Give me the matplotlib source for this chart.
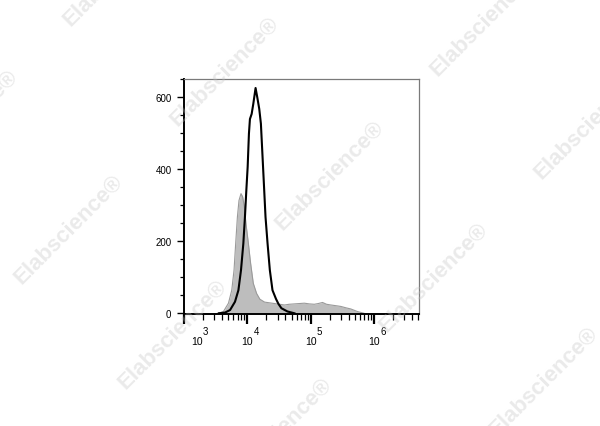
import numpy as np
import matplotlib
matplotlib.use("Agg")
import matplotlib.pyplot as plt
import matplotlib.transforms as mtransforms
from matplotlib.ticker import LogLocator, MultipleLocator, FixedLocator

plt.rcParams['font.family'] = ['Liberation Sans', 'DejaVu Sans']

# -------------------------
# data (log10 intensity, count)
# -------------------------
# isotype control (grey filled)
iso_log = [3.545, 3.623, 3.702, 3.754, 3.790, 3.816, 3.843, 3.868, 3.900, 3.926,
           3.953, 3.978, 4.016, 4.052, 4.094, 4.146, 4.198, 4.272, 4.35, 4.429,
           4.51, 4.586, 4.66, 4.743, 4.82, 4.900, 4.98, 5.057, 5.12, 5.187,
           5.25, 5.319, 5.40, 5.476, 5.56, 5.633, 5.736, 5.841]
iso_cnt = [0, 5, 28, 64, 120, 194, 267, 313, 332, 323,
           295, 249, 194, 138, 83, 55, 39, 31, 29, 27,
           25, 23, 25, 26, 27, 28, 26, 25, 27, 30,
           25, 23, 21, 19, 15, 12, 5, 0]

# stained sample (black line)
stain_log = [3.55, 3.648, 3.727, 3.805, 3.859, 3.900, 3.937, 3.962, 3.984, 4.005,
             4.025, 4.041, 4.068, 4.094, 4.130, 4.157, 4.188, 4.214, 4.235, 4.261,
             4.287, 4.319, 4.355, 4.397, 4.452, 4.491, 4.538, 4.633, 4.743]
stain_cnt = [0, 2, 9, 32, 64, 120, 194, 267, 341, 406,
             498, 539, 553, 581, 625, 599, 567, 526, 452, 360,
             267, 194, 120, 64, 40, 26, 14, 5, 0]

xticks = [1e3, 1e4, 1e5, 1e6]
xlabels = ["10", "10", "10", "10"]
xexps = ["3", "4", "5", "6"]
yticks = [0, 200, 400, 600]

# watermark centres (pixels from top-left)
wm_pos = [(118, -28), (-36, 125), (225, 72), (485, 22), (589, 125), (330, 176),
          (69, 230), (434, 278), (173, 335), (278, 433), (544, 382)]

# -------------------------
# plot
# -------------------------
fig = plt.figure(figsize=(6, 4.27), dpi=100)
ax = fig.add_axes([184 / 600, 1 - 315 / 427, 235 / 600, 235 / 427])

ix = 10 ** np.array(iso_log)
sx = 10 ** np.array(stain_log)
ax.fill_between(ix, iso_cnt, 0, color="#bdbdbd", lw=0, zorder=1)
ax.plot(ix, iso_cnt, color="#9a9a9a", lw=0.8, zorder=2)
ax.plot(sx, stain_cnt, color="black", lw=1.5, zorder=3)

ax.set_xscale("log")
ax.set_xlim(1e3, 10 ** 6.71)
ax.set_ylim(-2, 650)

ax.xaxis.set_major_locator(FixedLocator(xticks))
ax.set_xticklabels(xlabels)
ax.xaxis.set_minor_locator(LogLocator(base=10, subs=np.arange(2, 10)))
ax.yaxis.set_major_locator(FixedLocator(yticks))
ax.yaxis.set_minor_locator(MultipleLocator(50))

ax.tick_params(axis="y", which="major", length=5, width=1.0, labelsize=7, pad=4)
ax.tick_params(axis="y", which="minor", length=3, width=0.9)
ax.tick_params(axis="x", which="major", length=7, width=1.6, labelsize=7.5, pad=9)
ax.tick_params(axis="x", which="minor", length=4, width=0.9, labelbottom=False)

# first label sits to the right of its tick
lab0 = ax.get_xticklabels()[0]
lab0.set_transform(lab0.get_transform() + mtransforms.ScaledTranslation(13 / 100, 0, fig.dpi_scale_trans))

# exponents
for i, (t, e) in enumerate(zip(xticks, xexps)):
    dx = 15.5 if i == 0 else 6.5
    ax.annotate(e, xy=(t, 0), xycoords=("data", "axes fraction"),
                xytext=(dx, -12.5), textcoords="offset points",
                ha="center", va="center", fontsize=7)

for s in ["left", "bottom"]:
    ax.spines[s].set_linewidth(1.4)
    ax.spines[s].set_color("black")
for s in ["top", "right"]:
    ax.spines[s].set_linewidth(0.9)
    ax.spines[s].set_color("#7a7a7a")

for x, y in wm_pos:
    fig.text(x / 600, 1 - y / 427, "Elabscience\u00ae", rotation=45, ha="center", va="center",
             fontsize=16, fontweight="bold", color="#c4c4c4", alpha=0.35, zorder=10)

fig.savefig("out.png", dpi=100)
